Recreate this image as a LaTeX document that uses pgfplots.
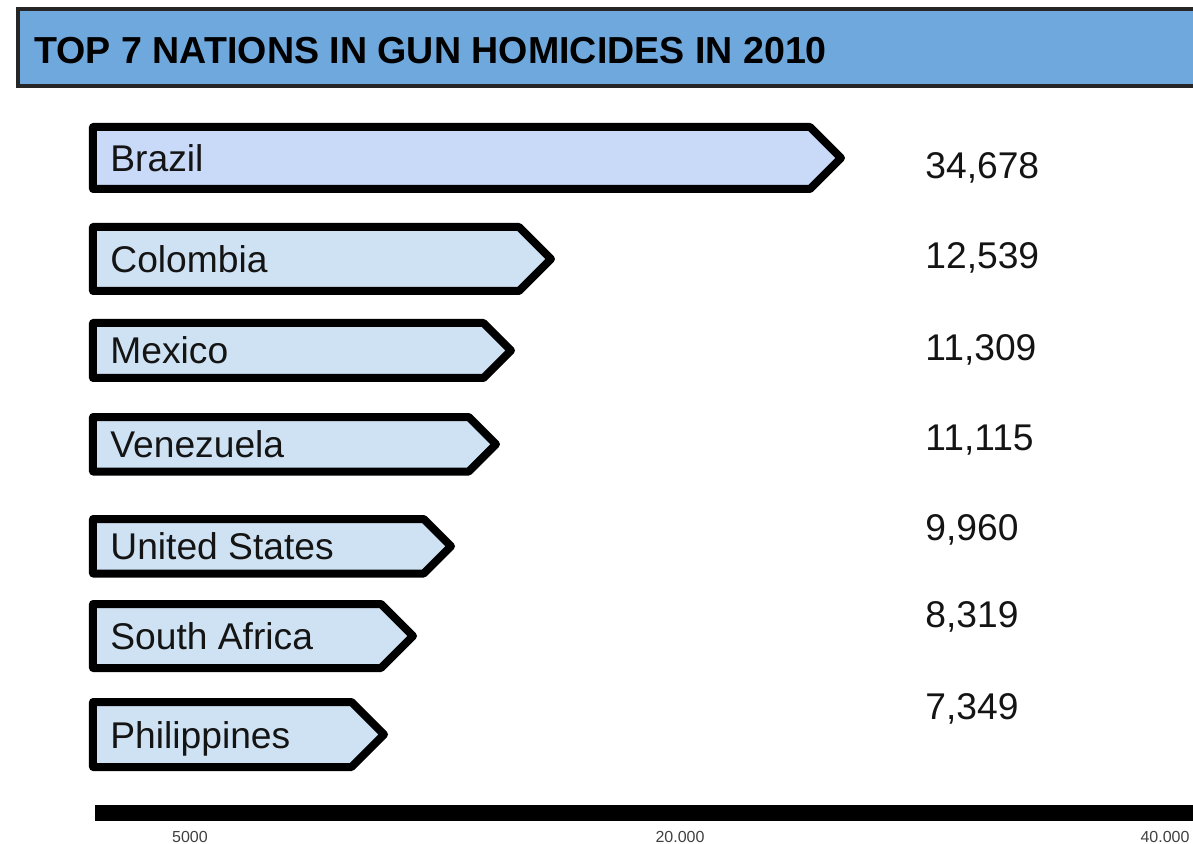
\documentclass[border=0pt]{standalone}
\usepackage{fontspec}
\setmainfont{Liberation Sans}
\usepackage{pgfplots}
\pgfplotsset{compat=1.18}
\definecolor{banner}{HTML}{6FA8DC}
\definecolor{brz}{HTML}{C9DAF8}
\definecolor{barc}{HTML}{CFE2F3}
\begin{document}
\begin{tikzpicture}
\begin{axis}[
 scale only axis, width=549pt, height=406.5pt,
 xmin=95, xmax=1193, ymin=0, ymax=813, y dir=reverse,
 enlargelimits=false, clip=false,
 axis x line*=bottom, axis y line=none,
 x axis line style={line width=8pt, line cap=butt, black},
 xtick={190,680,1165}, xticklabels={5000,20.000,40.000},
 major tick length=0pt,
 xticklabel style={font=\fontsize{8}{9}\selectfont, text=black!75, anchor=north, yshift=-5.5pt},
]
\coordinate (bbA) at (axis cs:0,844);
\coordinate (bbB) at (axis cs:1193,0);
% title banner
\fill[banner] (axis cs:18,9) rectangle (axis cs:1200,86);
\draw[line width=2pt, black!85] (axis cs:1200,9) -- (axis cs:18,9) -- (axis cs:18,86) -- (axis cs:1200,86);
\node[anchor=base west, inner sep=0pt, font=\bfseries\fontsize{18.8}{21}\selectfont] at (axis cs:34,64) {TOP 7 NATIONS IN GUN HOMICIDES IN 2010};
% arrow bars
\addplot[draw=black, fill=brz, line width=4pt, line join=round] coordinates {(93,127) (810,127) (841,158) (810,189) (93,189)} -- cycle;
\addplot[draw=black, fill=barc, line width=4pt, line join=round] coordinates {(93,227) (519,227) (551,259) (519,291) (93,291)} -- cycle;
\addplot[draw=black, fill=barc, line width=4pt, line join=round] coordinates {(93,323) (483.5,323) (511,350.5) (483.5,378) (93,378)} -- cycle;
\addplot[draw=black, fill=barc, line width=4pt, line join=round] coordinates {(93,417) (468.75,417) (496,444.25) (468.75,471.5) (93,471.5)} -- cycle;
\addplot[draw=black, fill=barc, line width=4pt, line join=round] coordinates {(93,519) (423.75,519) (451,546.25) (423.75,573.5) (93,573.5)} -- cycle;
\addplot[draw=black, fill=barc, line width=4pt, line join=round] coordinates {(93,604) (381,604) (413,636) (381,668) (93,668)} -- cycle;
\addplot[draw=black, fill=barc, line width=4pt, line join=round] coordinates {(93,702) (351.5,702) (384,734.5) (351.5,767) (93,767)} -- cycle;
% country labels
\begin{scope}[every node/.style={anchor=base west, inner sep=0pt, font=\fontsize{18.6}{20}\selectfont, text=black!92}]
\node at (axis cs:110,171.5) {Brazil};
\node at (axis cs:110,273) {Colombia};
\node at (axis cs:110,364) {Mexico};
\node at (axis cs:110,457.5) {Venezuela};
\node at (axis cs:110,559.5) {United States};
\node at (axis cs:110,649.5) {South Africa};
\node at (axis cs:110,748) {Philippines};
% values
\node at (axis cs:925,179) {34,678};
\node at (axis cs:925,269) {12,539};
\node at (axis cs:925,361) {11,309};
\node at (axis cs:925,450) {11,115};
\node at (axis cs:925,540) {9,960};
\node at (axis cs:925,627) {8,319};
\node at (axis cs:925,719) {7,349};
\end{scope}
\end{axis}
\pgfresetboundingbox
\path (bbA) rectangle (bbB);
\end{tikzpicture}
\end{document}
